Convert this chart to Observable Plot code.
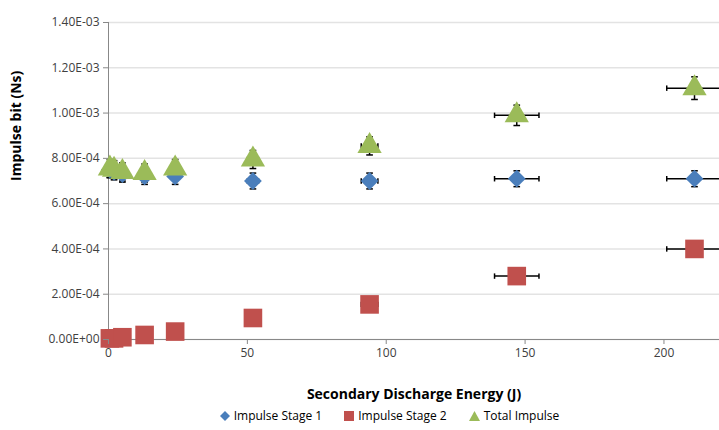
<!DOCTYPE html>
<html><head><meta charset="utf-8">
<script src="https://cdn.jsdelivr.net/npm/d3@7"></script>
<script src="https://cdn.jsdelivr.net/npm/@observablehq/plot@0.6"></script>
<style>
body{margin:0;background:#fff;font-family:"Open Sans",sans-serif}
#legend{display:flex;justify-content:center;gap:22px;font-size:12px;margin-left:60px;margin-top:2px}
#legend span{display:flex;align-items:center;gap:4px}
</style></head><body>
<div id="chart"></div>
<div id="legend">
<span><svg width="10" height="10"><path d="M5 0L10 5L5 10L0 5Z" fill="#4a7ebb"/></svg>Impulse Stage 1</span>
<span><svg width="10" height="10"><rect width="10" height="10" fill="#c0504d"/></svg>Impulse Stage 2</span>
<span><svg width="11" height="10"><path d="M5.5 0L11 10L0 10Z" fill="#9bbb59"/></svg>Total Impulse</span>
</div>
<script>
const energy = [0.5, 2, 5, 13, 24, 52, 94, 147, 211];
const energyErr = [0.5, 0.5, 0.8, 1, 1, 2, 3, 8, 10];
const stage1 = [7.5e-4, 7.4e-4, 7.3e-4, 7.2e-4, 7.2e-4, 7.0e-4, 7.0e-4, 7.1e-4, 7.1e-4];
const stage1Err = [3.5e-5, 3.5e-5, 3.5e-5, 3.5e-5, 3.5e-5, 3.5e-5, 3.5e-5, 3.5e-5, 3.5e-5];
const stage2 = [0.5e-5, 0.5e-5, 1e-5, 2e-5, 3.5e-5, 9.5e-5, 1.55e-4, 2.8e-4, 4.0e-4];
const total = [7.55e-4, 7.5e-4, 7.4e-4, 7.35e-4, 7.55e-4, 7.95e-4, 8.55e-4, 9.9e-4, 1.11e-3];
const totalErr = [4e-5, 4e-5, 4e-5, 4e-5, 4e-5, 4e-5, 4e-5, 4.5e-5, 5e-5];
const yTicks = [0, 2e-4, 4e-4, 6e-4, 8e-4, 1e-3, 1.2e-3, 1.4e-3];

const series = [
  {name: "Impulse Stage 1", v: stage1, e: stage1Err, sym: "diamond2", fill: "#4a7ebb", r: 8},
  {name: "Impulse Stage 2", v: stage2, e: null, sym: "square", fill: "#c0504d", r: 10.5},
  {name: "Total Impulse", v: total, e: totalErr, sym: "triangle", fill: "#9bbb59", r: 9}
];
const fmt = d => {
  if (d === 0) return "0.00E+00";
  const [m, ex] = d.toExponential(2).toUpperCase().split("E");
  const n = +ex;
  return m + "E" + (n < 0 ? "-" : "+") + String(Math.abs(n)).padStart(2, "0");
};
const capX = 1.2, capY = 1.2e-5;
const marks = [
  Plot.gridY(yTicks, {stroke: "#e3e3e3", strokeOpacity: 1, strokeWidth: 1.5}),
  Plot.ruleY([0], {stroke: "#888"}),
  Plot.ruleX([0], {stroke: "#888"})
];
for (const s of series) {
  const rows = energy.map((x, i) => ({x, y: s.v[i], ex: energyErr[i], ey: s.e ? s.e[i] : 0}));
  marks.push(
    Plot.link(rows, {x1: d => d.x - d.ex, x2: d => d.x + d.ex, y1: "y", y2: "y", stroke: "black", strokeWidth: 1.5}),
    Plot.link(rows, {x1: d => d.x - d.ex, x2: d => d.x - d.ex, y1: d => d.y - capY, y2: d => d.y + capY, stroke: "black", strokeWidth: 1.5}),
    Plot.link(rows, {x1: d => d.x + d.ex, x2: d => d.x + d.ex, y1: d => d.y - capY, y2: d => d.y + capY, stroke: "black", strokeWidth: 1.5})
  );
  if (s.e) marks.push(
    Plot.link(rows, {x1: "x", x2: "x", y1: d => d.y - d.ey, y2: d => d.y + d.ey, stroke: "black", strokeWidth: 1.5}),
    Plot.link(rows, {x1: d => d.x - capX, x2: d => d.x + capX, y1: d => d.y + d.ey, y2: d => d.y + d.ey, stroke: "black", strokeWidth: 1.5}),
    Plot.link(rows, {x1: d => d.x - capX, x2: d => d.x + capX, y1: d => d.y - d.ey, y2: d => d.y - d.ey, stroke: "black", strokeWidth: 1.5})
  );
}
for (const s of series) {
  marks.push(Plot.dot(energy.map((x, i) => ({x, y: s.v[i]})), {x: "x", y: "y", symbol: () => s.sym, fill: s.fill, r: s.r}));
}
marks.push(
  Plot.axisX([0, 50, 100, 150, 200], {tickSize: 5, stroke: "#888", fontSize: 12, fill: "#404040", label: null}),
  Plot.axisY(yTicks, {tickSize: 5, stroke: "#888", tickFormat: fmt, fontSize: 12, fill: "#404040", label: null}),
  Plot.text(["Secondary Discharge Energy (J)"], {frameAnchor: "bottom", dy: 59, fontSize: 14, fontWeight: "bold", fill: "#000"}),
  Plot.text(["Impulse bit (Ns)"], {frameAnchor: "left", dx: -92, rotate: -90, fontSize: 14, fontWeight: "bold", fill: "#000"})
);
const chart = Plot.plot({
  width: 719, height: 405,
  marginLeft: 108, marginRight: 0, marginTop: 22, marginBottom: 66,
  x: {domain: [0, 220]},
  y: {domain: [0, 1.4e-3]},
  style: {fontFamily: "Open Sans, sans-serif", overflow: "visible"},
  marks
});
document.getElementById("chart").append(chart);
</script>
</body></html>
